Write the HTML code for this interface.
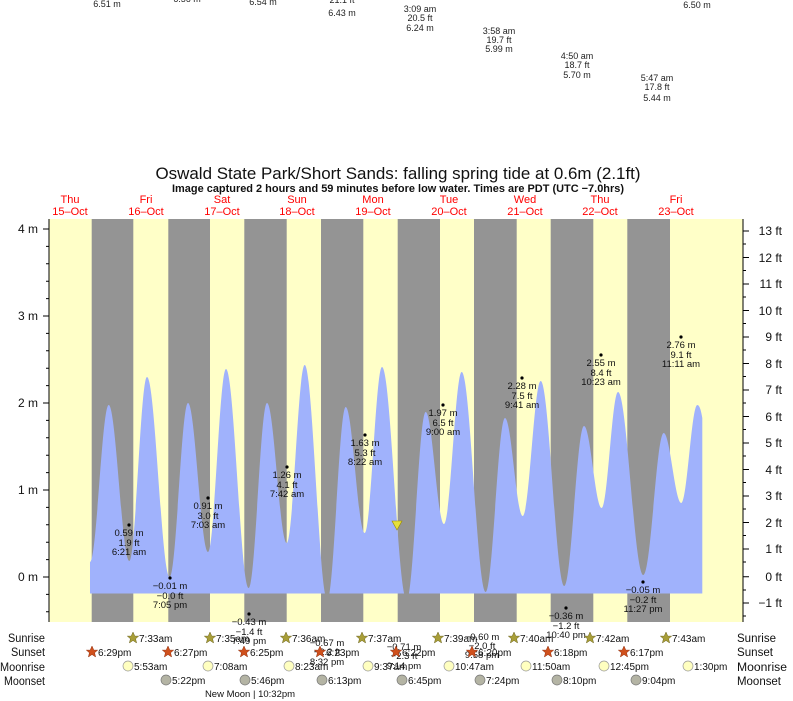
<!DOCTYPE html>
<html><head><meta charset="utf-8"><style>
html,body{margin:0;padding:0;background:#fff;}
svg{display:block;font-family:"Liberation Sans",sans-serif;}
</style></head><body>
<svg width="793" height="701" viewBox="0 0 793 701" xmlns="http://www.w3.org/2000/svg">
<defs><clipPath id="c"><rect x="49" y="219" width="694" height="374.5"/></clipPath></defs>
<g font-size="9" fill="#222" text-anchor="middle">
<text x="107" y="7">6.51 m</text>
<text x="187" y="2">6.56 m</text>
<text x="263" y="5">6.54 m</text>
<text x="342" y="3">21.1 ft</text><text x="342" y="16">6.43 m</text>
<text x="420" y="12">3:09 am</text><text x="420" y="21">20.5 ft</text><text x="420" y="31">6.24 m</text>
<text x="499" y="34">3:58 am</text><text x="499" y="43">19.7 ft</text><text x="499" y="52">5.99 m</text>
<text x="577" y="59">4:50 am</text><text x="577" y="68">18.7 ft</text><text x="577" y="78">5.70 m</text>
<text x="657" y="81">5:47 am</text><text x="657" y="90">17.8 ft</text><text x="657" y="101">5.44 m</text>
<text x="697" y="8">6.50 m</text>
</g>
<text x="398" y="179" font-size="17" text-anchor="middle" fill="#111" textLength="485" lengthAdjust="spacingAndGlyphs">Oswald State Park/Short Sands: falling  spring tide at 0.6m (2.1ft)</text>
<text x="398" y="192" font-size="11" font-weight="bold" text-anchor="middle" fill="#111" textLength="452" lengthAdjust="spacingAndGlyphs">Image captured 2 hours and 59 minutes before low water. Times are PDT (UTC −7.0hrs)</text>
<g font-size="11" fill="#f00" text-anchor="middle">
<text x="70" y="203">Thu</text><text x="70" y="215">15–Oct</text>
<text x="146" y="203">Fri</text><text x="146" y="215">16–Oct</text>
<text x="222" y="203">Sat</text><text x="222" y="215">17–Oct</text>
<text x="297" y="203">Sun</text><text x="297" y="215">18–Oct</text>
<text x="373" y="203">Mon</text><text x="373" y="215">19–Oct</text>
<text x="449" y="203">Tue</text><text x="449" y="215">20–Oct</text>
<text x="525" y="203">Wed</text><text x="525" y="215">21–Oct</text>
<text x="600" y="203">Thu</text><text x="600" y="215">22–Oct</text>
<text x="676" y="203">Fri</text><text x="676" y="215">23–Oct</text>
</g>
<rect x="49" y="219" width="694" height="403" fill="#ffffc8"/>
<g fill="#949494">
<rect x="91.7" y="219" width="41.6" height="403"/>
<rect x="168.3" y="219" width="41.7" height="403"/>
<rect x="244.3" y="219" width="42.4" height="403"/>
<rect x="321" y="219" width="42.3" height="403"/>
<rect x="397.7" y="219" width="42.3" height="403"/>
<rect x="474" y="219" width="42.7" height="403"/>
<rect x="550.7" y="219" width="42.6" height="403"/>
<rect x="627.3" y="219" width="42.7" height="403"/>
</g>
<path clip-path="url(#c)" fill="#a0b2fc" d="M90,562 C96.7,562 102,405 108.7,405 C116.1,405 121.9,561 129.3,561 C135.7,561 140.6,377 147,377 C155.2,377 161.5,577 169.7,577 C176.3,577 181.4,403 188,403 C195.2,403 200.8,552 208,552 C214.5,552 219.5,369 226,369 C234.2,369 240.5,588 248.7,588 C255.3,588 260.4,403 267,403 C274.1,403 279.6,543 286.7,543 C293.2,543 298.2,365 304.7,365 C312.8,365 319.2,600 327.3,600 C333.9,600 339.1,407 345.7,407 C352.5,407 357.9,533 364.7,533 C370.9,533 375.8,367 382,367 C390.9,367 397.8,600 406.7,600 C413.5,600 418.9,412 425.7,412 C432.3,412 437.4,524 444,524 C450.4,524 455.3,372 461.7,372 C470.3,372 477.1,592 485.7,592 C492.6,592 498.1,418 505,418 C511.4,418 516.3,516 522.7,516 C529.2,516 534.2,381 540.7,381 C549.2,381 555.8,586 564.3,586 C571.4,586 576.9,426 584,426 C590.4,426 595.3,508 601.7,508 C607.6,508 612.1,392 618,392 C627.1,392 634.2,575 643.3,575 C651,575 656.4,433 663.7,433 C670,433 675,503 681.3,503 C687.1,503 691.5,405 697.3,405 C699.5,405 701,410 702.3,418 L702.3,600 L90,600 Z"/>
<polygon points="392,521 402,521 397,530" fill="#e6e03a" stroke="#998800" stroke-width="0.6"/>
<line x1="49" y1="219" x2="49" y2="622" stroke="#000"/>
<line x1="743" y1="219" x2="743" y2="622" stroke="#000"/>
<g stroke="#000" stroke-width="1">
<path d="M43,229H49M43,316H49M43,403H49M43,490H49M43,577H49"/>
<path d="M46,246.4H49M46,263.8H49M46,281.2H49M46,298.6H49M46,333.4H49M46,350.8H49M46,368.2H49M46,385.6H49M46,420.4H49M46,437.8H49M46,455.2H49M46,472.6H49M46,507.4H49M46,524.8H49M46,542.2H49M46,559.6H49M46,594.4H49M46,611.8H49"/>
<path d="M743,231H749M743,257.5H749M743,284H749M743,310.5H749M743,337H749M743,363.5H749M743,390H749M743,416.5H749M743,443H749M743,469.5H749M743,496H749M743,522.5H749M743,549H749M743,576.8H749M743,603H749"/>
<path d="M743,244H746M743,270.5H746M743,297H746M743,323.5H746M743,350H746M743,376.5H746M743,403H746M743,429.5H746M743,456H746M743,482.5H746M743,509H746M743,535.5H746M743,562H746M743,590H746M743,616H746"/>
</g>
<g font-size="12" fill="#111" text-anchor="end">
<text x="38" y="233">4 m</text><text x="38" y="320">3 m</text><text x="38" y="407">2 m</text><text x="38" y="494">1 m</text><text x="38" y="581">0 m</text>
</g>
<g font-size="12" fill="#111" text-anchor="end">
<text x="782" y="235">13 ft</text><text x="782" y="262">12 ft</text><text x="782" y="288">11 ft</text><text x="782" y="315">10 ft</text><text x="782" y="341">9 ft</text><text x="782" y="368">8 ft</text><text x="782" y="394">7 ft</text><text x="782" y="421">6 ft</text><text x="782" y="447">5 ft</text><text x="782" y="474">4 ft</text><text x="782" y="500">3 ft</text><text x="782" y="527">2 ft</text><text x="782" y="553">1 ft</text><text x="782" y="581">0 ft</text><text x="782" y="607">−1 ft</text>
</g>
<g fill="#000"><circle cx="129" cy="525" r="1.6"/><circle cx="170" cy="578" r="1.6"/><circle cx="208" cy="498" r="1.6"/><circle cx="249" cy="614" r="1.6"/><circle cx="287" cy="467" r="1.6"/><circle cx="365" cy="435" r="1.6"/><circle cx="443" cy="405" r="1.6"/><circle cx="522" cy="378" r="1.6"/><circle cx="566" cy="608" r="1.6"/><circle cx="601" cy="355" r="1.6"/><circle cx="643" cy="582" r="1.6"/><circle cx="681" cy="337" r="1.6"/></g>
<g font-size="9.5" fill="#111" text-anchor="middle">
<text x="129" y="536">0.59 m</text><text x="129" y="546">1.9 ft</text><text x="129" y="555">6:21 am</text>
<text x="170" y="589">−0.01 m</text><text x="170" y="599">−0.0 ft</text><text x="170" y="608">7:05 pm</text>
<text x="208" y="509">0.91 m</text><text x="208" y="519">3.0 ft</text><text x="208" y="528">7:03 am</text>
<text x="249" y="625">−0.43 m</text><text x="249" y="635">−1.4 ft</text><text x="249" y="644">7:49 pm</text>
<text x="287" y="478">1.26 m</text><text x="287" y="488">4.1 ft</text><text x="287" y="497">7:42 am</text>
<text x="327" y="646">−0.67 m</text><text x="327" y="655">−2.2 ft</text><text x="327" y="665">8:32 pm</text>
<text x="365" y="446">1.63 m</text><text x="365" y="456">5.3 ft</text><text x="365" y="465">8:22 am</text>
<text x="404" y="650">−0.71 m</text><text x="404" y="659">−2.3 ft</text><text x="404" y="669">9:14 pm</text>
<text x="443" y="416">1.97 m</text><text x="443" y="426">6.5 ft</text><text x="443" y="435">9:00 am</text>
<text x="482" y="640">−0.60 m</text><text x="482" y="649">−2.0 ft</text><text x="482" y="658">9:58 pm</text>
<text x="522" y="389">2.28 m</text><text x="522" y="399">7.5 ft</text><text x="522" y="408">9:41 am</text>
<text x="566" y="619">−0.36 m</text><text x="566" y="629">−1.2 ft</text><text x="566" y="638">10:40 pm</text>
<text x="601" y="366">2.55 m</text><text x="601" y="376">8.4 ft</text><text x="601" y="385">10:23 am</text>
<text x="643" y="593">−0.05 m</text><text x="643" y="603">−0.2 ft</text><text x="643" y="612">11:27 pm</text>
<text x="681" y="348">2.76 m</text><text x="681" y="358">9.1 ft</text><text x="681" y="367">11:11 am</text>
</g>
<g font-size="11.5" fill="#111">
<text x="45" y="642" text-anchor="end" textLength="37" lengthAdjust="spacingAndGlyphs">Sunrise</text><text x="45" y="656" text-anchor="end" textLength="34" lengthAdjust="spacingAndGlyphs">Sunset</text><text x="45" y="671" text-anchor="end" textLength="45" lengthAdjust="spacingAndGlyphs">Moonrise</text><text x="45" y="685" text-anchor="end" textLength="41" lengthAdjust="spacingAndGlyphs">Moonset</text>
<text x="737" y="642" textLength="39" lengthAdjust="spacingAndGlyphs">Sunrise</text><text x="737" y="656" textLength="36" lengthAdjust="spacingAndGlyphs">Sunset</text><text x="737" y="671" textLength="50" lengthAdjust="spacingAndGlyphs">Moonrise</text><text x="737" y="685" textLength="44" lengthAdjust="spacingAndGlyphs">Moonset</text>
</g>
<defs>
<polygon id="st" points="0,-6 1.8,-1.9 5.7,-1.9 2.6,0.8 3.6,5 0,2.5 -3.6,5 -2.6,0.8 -5.7,-1.9 -1.8,-1.9"/>
</defs>
<g fill="#a89e38" stroke="#6e6620" stroke-width="0.5">
<use href="#st" x="133" y="638"/><use href="#st" x="210" y="638"/><use href="#st" x="286" y="638"/><use href="#st" x="362" y="638"/><use href="#st" x="438" y="638"/><use href="#st" x="514" y="638"/><use href="#st" x="590" y="638"/><use href="#st" x="666" y="638"/>
</g>
<g fill="#d0501c" stroke="#903010" stroke-width="0.5">
<use href="#st" x="92" y="652"/><use href="#st" x="168" y="652"/><use href="#st" x="244" y="652"/><use href="#st" x="320" y="652"/><use href="#st" x="396" y="652"/><use href="#st" x="472" y="652"/><use href="#st" x="548" y="652"/><use href="#st" x="624" y="652"/>
</g>
<g fill="#ffffc0" stroke="#999" stroke-width="0.7">
<circle cx="128" cy="666" r="5"/><circle cx="208" cy="666" r="5"/><circle cx="289" cy="666" r="5"/><circle cx="368" cy="666" r="5"/><circle cx="449" cy="666" r="5"/><circle cx="526" cy="666" r="5"/><circle cx="604" cy="666" r="5"/><circle cx="688" cy="666" r="5"/>
</g>
<g fill="#b4b4a4" stroke="#777" stroke-width="0.7">
<circle cx="166" cy="680" r="5"/><circle cx="245" cy="680" r="5"/><circle cx="322" cy="680" r="5"/><circle cx="402" cy="680" r="5"/><circle cx="480" cy="680" r="5"/><circle cx="557" cy="680" r="5"/><circle cx="636" cy="680" r="5"/>
</g>
<g font-size="10" fill="#111">
<text x="139" y="642">7:33am</text><text x="216" y="642">7:35am</text><text x="292" y="642">7:36am</text><text x="368" y="642">7:37am</text><text x="444" y="642">7:39am</text><text x="520" y="642">7:40am</text><text x="596" y="642">7:42am</text><text x="672" y="642">7:43am</text>
<text x="98" y="656">6:29pm</text><text x="174" y="656">6:27pm</text><text x="250" y="656">6:25pm</text><text x="326" y="656">6:23pm</text><text x="402" y="656">6:22pm</text><text x="478" y="656">6:20pm</text><text x="554" y="656">6:18pm</text><text x="630" y="656">6:17pm</text>
<text x="134" y="670">5:53am</text><text x="214" y="670">7:08am</text><text x="295" y="670">8:23am</text><text x="374" y="670">9:37am</text><text x="455" y="670">10:47am</text><text x="532" y="670">11:50am</text><text x="610" y="670">12:45pm</text><text x="694" y="670">1:30pm</text>
<text x="172" y="684">5:22pm</text><text x="251" y="684">5:46pm</text><text x="328" y="684">6:13pm</text><text x="408" y="684">6:45pm</text><text x="486" y="684">7:24pm</text><text x="563" y="684">8:10pm</text><text x="642" y="684">9:04pm</text>
<text x="250" y="697" text-anchor="middle" font-size="9.5">New Moon | 10:32pm</text>
</g>
</svg>
</body></html>
